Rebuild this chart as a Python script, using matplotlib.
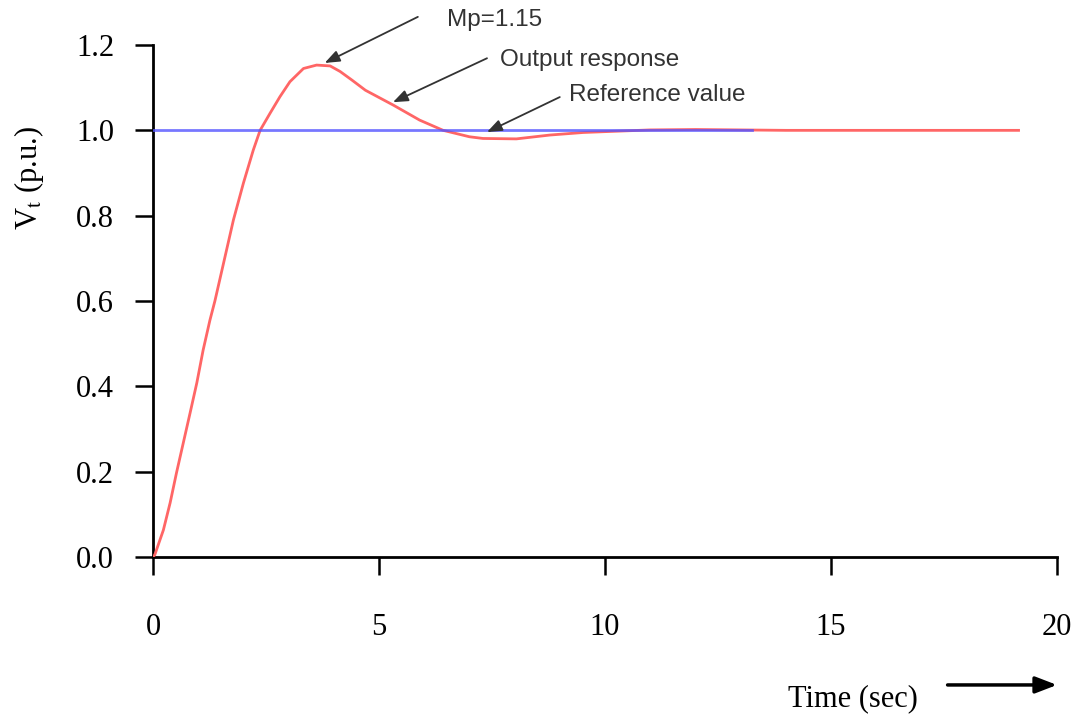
import numpy as np
import matplotlib.pyplot as plt

plt.rcParams['mathtext.fontset'] = 'stix'

# step response
t = [0, 0.04, 0.23, 0.38, 0.52, 0.67, 0.82, 0.97, 1.11, 1.26, 1.37, 1.56,
     1.78, 2.00, 2.22, 2.37, 2.59, 2.81, 3.03, 3.33, 3.62, 3.92, 4.14, 4.4,
     4.7, 5.32, 5.9, 6.42, 7.0, 7.3, 8.04, 8.78, 9.52, 10.26, 11.0, 12.0,
     13.0, 14.0, 16.0, 19.15]
v = [0, 0.005, 0.063, 0.127, 0.197, 0.267, 0.337, 0.408, 0.485, 0.555, 0.600,
     0.688, 0.79, 0.876, 0.954, 1.0, 1.04, 1.079, 1.114, 1.145, 1.153, 1.151,
     1.138, 1.118, 1.094, 1.059, 1.024, 1.0, 0.985, 0.981, 0.98, 0.989, 0.995,
     0.998, 1.001, 1.002, 1.001, 1.0, 1.0, 1.0]
t_ref = [0, 13.25]
v_ref = [1.0, 1.0]

x_ticks = [0, 5, 10, 15, 20]
y_ticks = [0.0, 0.2, 0.4, 0.6, 0.8, 1.0, 1.2]

fig = plt.figure(figsize=(10.78, 7.17), dpi=100)
ax = fig.add_axes([0.1419, 0.2232, 0.8386, 0.714])

ax.plot(t, v, color='#ff6666', lw=2.0, zorder=3)
ax.plot(t_ref, v_ref, color='#5555ff', lw=2.0, alpha=0.8, zorder=4)

ax.set_xlim(0, 20)
ax.set_ylim(0, 1.2)
ax.set_xticks(x_ticks)
ax.set_xticklabels([str(x) for x in x_ticks])
ax.set_yticks(y_ticks)
ax.set_yticklabels(['%.1f' % y for y in y_ticks])

for s in ['top', 'right']:
    ax.spines[s].set_visible(False)
for s in ['left', 'bottom']:
    ax.spines[s].set_linewidth(2.0)
ax.tick_params(axis='both', direction='out', length=13, width=1.8,
               labelsize=22)
ax.tick_params(axis='y', pad=15)
ax.tick_params(axis='x', pad=27)
for lab in ax.get_xticklabels() + ax.get_yticklabels():
    lab.set_fontfamily('Liberation Serif')

ax.set_ylabel(r'V$_{\mathrm{t}}$ (p.u.)', fontsize=22,
              fontfamily='Liberation Serif')
ax.yaxis.set_label_coords(-0.118, 0.74)
ax.set_xlabel('Time (sec)', fontsize=22, fontfamily='Liberation Serif')
ax.xaxis.set_label_coords(0.774, -0.248)

# arrow beside the x label
ax.annotate('', xy=(1.0, -0.25), xytext=(0.879, -0.25),
            xycoords='axes fraction', textcoords='axes fraction',
            annotation_clip=False,
            arrowprops=dict(arrowstyle='-|>,head_length=1.3,head_width=0.5',
                            color='black', lw=2.5, shrinkA=0, shrinkB=0))

# callouts
notes = [('Mp=1.15', (3.8, 1.158), (5.86, 1.266), (6.5, 1.258)),
         ('Output response', (5.31, 1.066), (7.39, 1.169), (7.68, 1.165)),
         ('Reference value', (7.39, 0.996), (9.0, 1.078), (9.2, 1.083))]
for txt, pt, start, tpos in notes:
    ax.annotate('', xy=pt, xytext=start, annotation_clip=False,
                arrowprops=dict(arrowstyle='-|>,head_length=0.9,head_width=0.35',
                                color='#333333', lw=1.3,
                                shrinkA=0, shrinkB=0), zorder=5)
    ax.text(tpos[0], tpos[1], txt, fontsize=17.5, color='#333333',
            fontfamily='Liberation Sans', va='center', ha='left',
            clip_on=False)

fig.savefig('out.png', dpi=100)
